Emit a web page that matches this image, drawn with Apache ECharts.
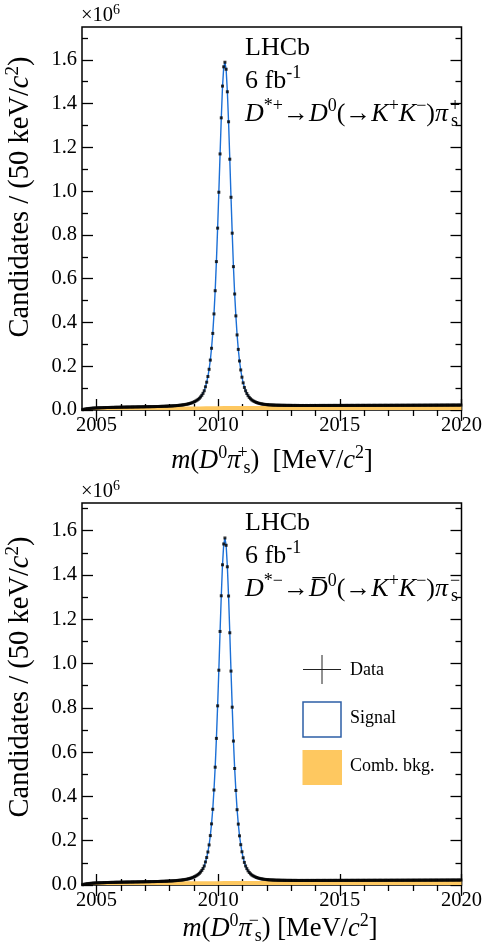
<!DOCTYPE html>
<html>
<head>
<meta charset="utf-8">
<script src="https://cdn.jsdelivr.net/npm/echarts@6/dist/echarts.min.js"></script>
<style>
  html, body { margin: 0; padding: 0; background: #fff; }
  #chart { width: 485px; height: 952px; }
</style>
</head>
<body>
<div id="chart"></div>
<script>
// Binning of the m(D0 pi_s) histograms, in MeV/c^2
const BIN_LO = 2004.4;
const BIN_W = 0.05;

const xMajorTicks = [2005, 2010, 2015, 2020];
const xMinorTicks = [2006, 2007, 2008, 2009, 2011, 2012, 2013, 2014, 2016, 2017, 2018, 2019];
const yMajorTicks = [0, 0.2, 0.4, 0.6, 0.8, 1.0, 1.2, 1.4, 1.6];
const yMinorTicks = [0.1, 0.3, 0.5, 0.7, 0.9, 1.1, 1.3, 1.5, 1.7];

// Candidates per 50 keV bin, in thousands: D*+ -> D0(-> K+K-) pi_s+
const plusCounts = [
  1.5, 3.0, 4.2, 5.1, 5.9, 6.6, 7.2, 7.7, 8.2, 8.6, 9.0, 9.3, 9.6, 9.9, 10.1, 10.3, 10.5, 10.7, 10.9, 11.1,
  11.3, 11.4, 11.6, 11.7, 11.9, 12.0, 12.1, 12.3, 12.4, 12.5, 12.6, 12.8, 12.9, 13.0, 13.1, 13.2, 13.3, 13.4, 13.5, 13.6,
  13.7, 13.8, 13.9, 14.0, 14.1, 14.2, 14.3, 14.4, 14.5, 14.6, 14.7, 14.8, 14.9, 15.0, 15.1, 15.2, 15.3, 15.4, 15.5, 15.6,
  15.7, 15.9, 16.0, 16.2, 16.4, 16.6, 16.8, 17.0, 17.2, 17.4, 17.7, 18.0, 18.3, 18.6, 18.9, 19.3, 19.7, 20.1, 20.6, 21.1,
  21.7, 22.3, 23.0, 23.8, 24.7, 25.7, 26.8, 28.1, 29.6, 31.3, 33.3, 35.5, 38.0, 41.0, 44.5, 48.5, 53.5, 59.5, 67.0, 76.0,
  88, 106, 127, 153, 186, 228, 282, 350, 439, 545, 678, 831, 995, 1170, 1335, 1480, 1568, 1589, 1557, 1454,
  1317, 1146, 972, 808, 655, 530, 430, 343, 277, 224, 183, 150, 124, 103, 88, 75.5, 65.5, 57.5, 51.5, 46.5,
  42.5, 39.3, 36.6, 34.3, 32.3, 30.6, 29.2, 28.0, 27.0, 26.1, 25.4, 24.8, 24.3, 23.8, 23.4, 23.1, 22.8, 22.5, 22.3, 22.1,
  21.9, 21.8, 21.7, 21.6, 21.5, 21.4, 21.3, 21.2, 21.2, 21.1, 21.1, 21.0, 21.0, 20.9, 20.9, 20.9, 20.8, 20.8, 20.8, 20.7,
  20.7, 20.8, 20.7, 20.7, 20.8, 20.7, 20.7, 20.8, 20.8, 20.7, 20.8, 20.8, 20.8, 20.7, 20.8, 20.8, 20.9, 20.8, 20.8, 20.9,
  20.8, 20.9, 20.9, 20.8, 20.9, 20.9, 20.9, 21.0, 20.9, 20.9, 21.0, 20.9, 21.0, 21.0, 21.0, 20.9, 21.0, 21.0, 21.1, 21.0,
  21.0, 21.1, 21.1, 21.0, 21.1, 21.1, 21.1, 21.2, 21.1, 21.1, 21.2, 21.2, 21.1, 21.2, 21.2, 21.2, 21.3, 21.2, 21.2, 21.3,
  21.3, 21.2, 21.3, 21.3, 21.3, 21.4, 21.3, 21.3, 21.4, 21.4, 21.4, 21.3, 21.4, 21.4, 21.5, 21.4, 21.4, 21.5, 21.5, 21.5,
  21.5, 21.5, 21.6, 21.5, 21.6, 21.6, 21.6, 21.6, 21.7, 21.6, 21.7, 21.7, 21.7, 21.7, 21.8, 21.7, 21.8, 21.8, 21.8, 21.8,
  21.9, 21.8, 21.9, 21.9, 21.9, 22.0, 21.9, 22.0, 22.0, 22.0, 22.1, 22.0, 22.1, 22.1, 22.1, 22.2, 22.1, 22.2, 22.2, 22.2,
  22.3, 22.2, 22.3, 22.3, 22.3, 22.4, 22.4, 22.3, 22.4, 22.4, 22.5, 22.5
];

// Candidates per 50 keV bin, in thousands: D*- -> D0bar(-> K+K-) pi_s-
const minusCounts = [
  1.4, 2.9, 4.1, 5.0, 5.8, 6.5, 7.1, 7.6, 8.1, 8.5, 8.9, 9.2, 9.5, 9.8, 10.0, 10.2, 10.4, 10.6, 10.8, 11.0,
  11.2, 11.3, 11.5, 11.6, 11.8, 11.9, 12.0, 12.2, 12.3, 12.4, 12.5, 12.7, 12.8, 12.9, 13.0, 13.1, 13.2, 13.3, 13.4, 13.5,
  13.6, 13.7, 13.8, 13.9, 14.0, 14.1, 14.2, 14.3, 14.4, 14.5, 14.6, 14.7, 14.8, 14.9, 15.0, 15.1, 15.2, 15.3, 15.4, 15.5,
  15.6, 15.8, 15.9, 16.1, 16.3, 16.5, 16.7, 16.9, 17.1, 17.3, 17.6, 17.9, 18.2, 18.5, 18.8, 19.2, 19.6, 20.0, 20.5, 21.0,
  21.5, 22.1, 22.8, 23.6, 24.5, 25.4, 26.5, 27.8, 29.2, 30.9, 32.8, 35.0, 37.5, 40.4, 43.8, 47.8, 52.6, 58.5, 65.8, 74.5,
  86, 104, 124, 149, 181, 223, 276, 342, 429, 532, 662, 809, 970, 1145, 1306, 1446, 1540, 1567, 1534, 1437,
  1305, 1139, 966, 803, 650, 526, 427, 340, 275, 222, 182, 150, 123, 102, 86, 74.0, 64.0, 56.5, 50.5, 45.6,
  42.0, 38.9, 36.2, 33.9, 32.0, 30.3, 28.9, 27.7, 26.7, 25.9, 25.2, 24.6, 24.1, 23.6, 23.2, 22.9, 22.6, 22.3, 22.1, 21.9,
  21.7, 21.6, 21.5, 21.4, 21.3, 21.2, 21.1, 21.0, 21.0, 20.9, 20.9, 20.8, 20.8, 20.8, 20.7, 20.7, 20.7, 20.6, 20.6, 20.6,
  20.6, 20.6, 20.7, 20.6, 20.6, 20.7, 20.6, 20.7, 20.7, 20.6, 20.7, 20.7, 20.7, 20.8, 20.7, 20.7, 20.8, 20.7, 20.8, 20.8,
  20.8, 20.8, 20.7, 20.8, 20.8, 20.9, 20.8, 20.8, 20.9, 20.9, 20.8, 20.9, 20.9, 20.9, 21.0, 20.9, 20.9, 21.0, 21.0, 20.9,
  21.0, 21.0, 21.0, 21.1, 21.0, 21.0, 21.1, 21.1, 21.1, 21.0, 21.1, 21.1, 21.2, 21.1, 21.1, 21.2, 21.2, 21.1, 21.2, 21.2,
  21.2, 21.3, 21.2, 21.2, 21.3, 21.3, 21.3, 21.2, 21.3, 21.3, 21.4, 21.3, 21.3, 21.4, 21.4, 21.4, 21.5, 21.4, 21.4, 21.5,
  21.5, 21.4, 21.5, 21.5, 21.5, 21.6, 21.5, 21.6, 21.6, 21.6, 21.6, 21.7, 21.6, 21.7, 21.7, 21.7, 21.7, 21.8, 21.7, 21.8,
  21.8, 21.8, 21.8, 21.9, 21.8, 21.9, 21.9, 21.9, 22.0, 21.9, 22.0, 22.0, 22.0, 22.0, 22.1, 22.0, 22.1, 22.1, 22.1, 22.2,
  22.1, 22.2, 22.2, 22.2, 22.3, 22.2, 22.3, 22.3, 22.3, 22.4, 22.3, 22.4
];

// Total fit (signal + comb. bkg.) around the peak, in thousands, starting at bin FIT_FIRST_BIN
const FIT_FIRST_BIN = 86;
const plusFit = [
  26.8, 28.1, 29.6, 31.3, 33.3, 35.5, 38.1, 41.1, 44.6, 48.8, 53.8, 60.0, 67.5, 76.5,
  88, 106, 127, 153, 186, 228, 282, 350, 439, 546, 679, 832, 997, 1168, 1332, 1475, 1566, 1588, 1556, 1455,
  1316, 1147, 973, 808, 656, 531, 430, 344, 277, 224, 182, 150, 124, 104, 88, 75.5, 65.5, 57.5, 51.5, 46.5,
  42.5, 39.3, 36.6, 34.3, 32.3, 30.6, 29.2, 28.0, 27.0
];
const minusFit = [
  26.5, 27.8, 29.2, 30.9, 32.8, 35.0, 37.5, 40.5, 44.0, 48.0, 52.8, 58.7, 66.0, 74.8,
  86, 104, 124, 150, 181, 223, 276, 342, 429, 533, 662, 809, 971, 1143, 1305, 1445, 1538, 1566, 1534, 1438,
  1304, 1139, 967, 803, 651, 527, 427, 341, 275, 222, 182, 150, 123, 102, 86, 74.0, 64.0, 56.5, 50.5, 45.6,
  42.0, 38.9, 36.2, 33.9, 32.0, 30.3, 28.9, 27.7, 26.7
];

// Combinatorial background component, in thousands per bin
const bkgMass = [2004.41, 2004.5, 2004.75, 2005, 2005.5, 2006, 2007, 2008, 2009, 2010, 2011, 2012, 2013, 2014, 2015, 2016, 2017, 2018, 2019, 2020];
const plusBkg = [0, 3.5, 6.5, 8.5, 10.5, 12.0, 14.0, 15.5, 16.5, 17.3, 18.0, 18.5, 19.0, 19.3, 19.6, 19.9, 20.1, 20.3, 20.5, 20.7];
const minusBkg = [0, 3.4, 6.4, 8.4, 10.4, 11.9, 13.9, 15.4, 16.4, 17.2, 17.9, 18.4, 18.9, 19.2, 19.5, 19.8, 20.0, 20.2, 20.4, 20.6];

const Y_MAX = [1.75, 1.725];

const SERIF = '"Liberation Serif", "Times New Roman", "DejaVu Serif", serif';
const ORANGE = '#fec860';
const BLUE = '#1b6fd6';

function binMass(k) { return BIN_LO + (k + 0.5) * BIN_W; }
function histPoints(counts) { return counts.map((v, k) => [binMass(k), v / 1000]); }
function fitPoints(vals) { return vals.map((v, i) => [binMass(FIT_FIRST_BIN + i), v / 1000]); }
function bkgPoints(vals) { return bkgMass.map((m, i) => [m, vals[i] / 1000]); }

function rich(size) {
  const s = Math.round(size * 0.68);
  return {
    n: { fontFamily: SERIF, fontSize: size, lineHeight: size * 1.25, fill: '#000', verticalAlign: 'middle' },
    i: { fontFamily: SERIF, fontSize: size, fontStyle: 'italic', lineHeight: size * 1.25, fill: '#000', verticalAlign: 'middle' },
    sup: { fontFamily: SERIF, fontSize: s, lineHeight: s, fill: '#000', verticalAlign: 'top' },
    // superscript stacked over the following subscript
    supz: { fontFamily: SERIF, fontSize: s, lineHeight: s, fill: '#000', verticalAlign: 'top', width: 0, align: 'left', padding: [0, 0, 0, 2] },
    sub: { fontFamily: SERIF, fontSize: s, lineHeight: s, fill: '#000', verticalAlign: 'bottom', padding: [0, 0, 0, 1] }
  };
}

const grids = [
  { left: 82, right: 22, top: 27, height: 383 },
  { left: 82, right: 22, top: 503, height: 382 }
];

const xAxes = [], yAxes = [];
grids.forEach((g, gi) => {
  const xBase = { type: 'value', gridIndex: gi, min: BIN_LO, max: 2020, splitLine: { show: false }, axisLine: { show: false } };
  const tickStyle = { color: '#000', width: 1.3 };
  xAxes.push(Object.assign({}, xBase, {
    position: 'bottom',
    axisTick: { inside: true, length: 11, lineStyle: tickStyle, customValues: xMajorTicks },
    axisLabel: { customValues: xMajorTicks, fontFamily: SERIF, fontSize: 20.5, color: '#000', margin: 5, formatter: v => String(v) }
  }));
  xAxes.push(Object.assign({}, xBase, {
    position: 'bottom',
    axisTick: { inside: true, length: 6, lineStyle: tickStyle, customValues: xMinorTicks },
    axisLabel: { show: false }
  }));
  xAxes.push(Object.assign({}, xBase, {
    position: 'top',
    axisTick: { inside: true, length: 11, lineStyle: tickStyle, customValues: xMajorTicks },
    axisLabel: { show: false }
  }));
  xAxes.push(Object.assign({}, xBase, {
    position: 'top',
    axisTick: { inside: true, length: 6, lineStyle: tickStyle, customValues: xMinorTicks },
    axisLabel: { show: false }
  }));

  const yBase = { type: 'value', gridIndex: gi, min: 0, max: Y_MAX[gi], splitLine: { show: false }, axisLine: { show: false } };
  yAxes.push(Object.assign({}, yBase, {
    position: 'left',
    axisTick: { inside: true, length: 11, lineStyle: tickStyle, customValues: yMajorTicks },
    axisLabel: { customValues: yMajorTicks, fontFamily: SERIF, fontSize: 20.5, color: '#000', margin: 5, formatter: v => v.toFixed(1) }
  }));
  yAxes.push(Object.assign({}, yBase, {
    position: 'left',
    axisTick: { inside: true, length: 6, lineStyle: tickStyle, customValues: yMinorTicks },
    axisLabel: { show: false }
  }));
  yAxes.push(Object.assign({}, yBase, {
    position: 'right',
    axisTick: { inside: true, length: 11, lineStyle: tickStyle, customValues: yMajorTicks },
    axisLabel: { show: false }
  }));
  yAxes.push(Object.assign({}, yBase, {
    position: 'right',
    axisTick: { inside: true, length: 6, lineStyle: tickStyle, customValues: yMinorTicks },
    axisLabel: { show: false }
  }));
});

const panels = [
  { counts: plusCounts, fit: plusFit, bkg: plusBkg },
  { counts: minusCounts, fit: minusFit, bkg: minusBkg }
];

const series = [];
panels.forEach((p, gi) => {
  const ax = { xAxisIndex: gi * 4, yAxisIndex: gi * 4 };
  series.push(Object.assign({
    name: 'Comb. bkg.', type: 'line', data: bkgPoints(p.bkg), smooth: 0.3,
    showSymbol: false, lineStyle: { width: 0 }, areaStyle: { color: ORANGE, opacity: 1 },
    z: 1, silent: true, animation: false
  }, ax));
  series.push(Object.assign({
    name: 'Signal', type: 'line', data: fitPoints(p.fit), smooth: false,
    showSymbol: false, lineStyle: { color: BLUE, width: 1.4 },
    z: 2, silent: true, animation: false
  }, ax));
  series.push(Object.assign({
    name: 'Data', type: 'scatter', data: histPoints(p.counts),
    symbol: 'rect', symbolSize: 3, itemStyle: { color: '#000' },
    z: 3, silent: true, animation: false
  }, ax));
});

function txt(x, y, text, size, extra) {
  return {
    type: 'text', x: x, y: y, silent: true,
    style: Object.assign({ text: text, rich: rich(size), fontFamily: SERIF, fontSize: size, fill: '#000', align: 'left', verticalAlign: 'middle' }, extra || {})
  };
}

const Y_TITLE = '{n|Candidates / (50 keV/}{i|c}{sup|2}{n|)}';

const graphics = [
  // multiplier labels
  txt(81, 16, '{n|×10}{sup|6}', 20.5),
  txt(81, 492, '{n|×10}{sup|6}', 20.5),
  // y titles
  Object.assign(txt(21, 197, Y_TITLE, 28.5, { align: 'center' }), { rotation: Math.PI / 2 }),
  Object.assign(txt(21, 677, Y_TITLE, 28.5, { align: 'center' }), { rotation: Math.PI / 2 }),
  // x titles
  txt(272, 461, '{i|m}{n|(}{i|D}{sup|0}{i|π}{supz|+}{sub|s}{n|)  [MeV/}{i|c}{sup|2}{n|]}', 26.5, { align: 'center' }),
  txt(280, 929, '{i|m}{n|(}{i|D}{sup|0}{i|π}{supz|−}{sub|s}{n|) [MeV/}{i|c}{sup|2}{n|]}', 26.5, { align: 'center' }),
  // top panel labels
  txt(245, 48, '{n|LHCb}', 26),
  txt(245, 81, '{n|6 fb}{sup|-1}', 26),
  txt(245, 114, '{i|D}{sup|*+}{n|→}{i|D}{sup|0}{n|(→}{i|K}{sup|+}{i|K}{sup|−}{n|)}{i|π}{supz|+}{sub|s}', 26),
  // bottom panel labels
  txt(245, 523, '{n|LHCb}', 26),
  txt(245, 556, '{n|6 fb}{sup|-1}', 26),
  txt(245, 589, '{i|D}{sup|*−}{n|→}{i|D\u0305}{sup|0}{n|(→}{i|K}{sup|+}{i|K}{sup|−}{n|)}{i|π}{supz|−}{sub|s}', 26),
  // legend
  { type: 'line', silent: true, shape: { x1: 303, y1: 669.5, x2: 341, y2: 669.5 }, style: { stroke: '#222', lineWidth: 1 } },
  { type: 'line', silent: true, shape: { x1: 322, y1: 655, x2: 322, y2: 684 }, style: { stroke: '#222', lineWidth: 1 } },
  { type: 'rect', silent: true, shape: { x: 303, y: 702, width: 38, height: 35 }, style: { fill: '#fff', stroke: '#2d5fa6', lineWidth: 1.5 } },
  { type: 'rect', silent: true, shape: { x: 302.5, y: 750, width: 39.5, height: 35 }, style: { fill: ORANGE } },
  txt(350, 670, '{n|Data}', 18),
  txt(350, 718, '{n|Signal}', 18),
  txt(350, 766, '{n|Comb. bkg.}', 18)
];

const chart = echarts.init(document.getElementById('chart'), null, { renderer: 'canvas' });
chart.setOption({
  backgroundColor: '#fff',
  animation: false,
  grid: grids.map(g => Object.assign({ show: true, borderColor: '#000', borderWidth: 1.5, backgroundColor: 'transparent', containLabel: false }, g)),
  xAxis: xAxes,
  yAxis: yAxes,
  series: series,
  graphic: graphics
});
</script>
</body>
</html>
